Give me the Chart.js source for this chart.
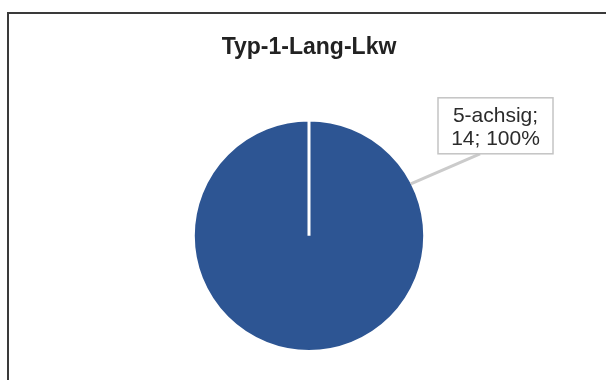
<!DOCTYPE html>
<html>
<head>
<meta charset="utf-8">
<script src="https://cdn.jsdelivr.net/npm/chart.js@4"></script>
<style>
  html, body { margin: 0; padding: 0; background: #fff; overflow: hidden; width: 606px; height: 380px; }
  #frame { position: absolute; left: 7px; top: 12px; width: 700px; height: 500px; border: 2px solid #3a3a3a; box-sizing: border-box; }
  #c { position: absolute; left: 0; top: 0; }
</style>
</head>
<body>
<div id="frame"></div>
<canvas id="c" width="606" height="380"></canvas>
<script>
const chartTitle = 'Typ-1-Lang-Lkw';
const categories = ['5-achsig'];
const values = [14];
const sliceColors = ['#2d5593'];

const calloutPlugin = {
  id: 'callout',
  afterDatasetsDraw(chart) {
    const ctx = chart.ctx;
    const meta = chart.getDatasetMeta(0);
    const total = values.reduce((a, b) => a + b, 0);
    meta.data.forEach((arc, i) => {
      const cx = arc.x, cy = arc.y, r = arc.outerRadius - 1.5;
      const ang = -27 * Math.PI / 180;
      const px = cx + r * Math.cos(ang), py = cy + r * Math.sin(ang);
      const bx = cx + 129, by = cy - 138, bw = 115, bh = 56;
      const lx = cx + 171, ly = by + bh;
      ctx.save();
      ctx.strokeStyle = '#cbcbcb';
      ctx.lineWidth = 3;
      ctx.beginPath();
      ctx.moveTo(px, py);
      ctx.lineTo(lx, ly);
      ctx.stroke();
      ctx.fillStyle = '#ffffff';
      ctx.fillRect(bx, by, bw, bh);
      ctx.strokeStyle = '#c4c4c4';
      ctx.lineWidth = 1.5;
      ctx.strokeRect(bx, by, bw, bh);
      const pct = Math.round(values[i] / total * 100);
      ctx.fillStyle = '#2b2b2b';
      ctx.font = '21px "Liberation Sans", Arial, sans-serif';
      ctx.textAlign = 'center';
      ctx.textBaseline = 'middle';
      ctx.fillText(categories[i] + ';', bx + bw / 2, by + 18);
      ctx.fillText(values[i] + '; ' + pct + '%', bx + bw / 2, by + 41);
      ctx.restore();
    });
  }
};

new Chart(document.getElementById('c'), {
  type: 'pie',
  data: {
    labels: categories,
    datasets: [{
      data: values,
      backgroundColor: sliceColors,
      borderColor: '#ffffff',
      borderWidth: 3
    }]
  },
  options: {
    responsive: false,
    animation: false,
    layout: { padding: { left: 12, right: 0, top: 0, bottom: 27 } },
    plugins: {
      legend: { display: false },
      tooltip: { enabled: false },
      title: {
        display: true,
        text: chartTitle,
        color: '#222222',
        font: { family: '"Liberation Sans", Arial, sans-serif', size: 23, weight: 'bold' },
        padding: { top: 34, bottom: 57 }
      }
    }
  },
  plugins: [calloutPlugin]
});
</script>
</body>
</html>
